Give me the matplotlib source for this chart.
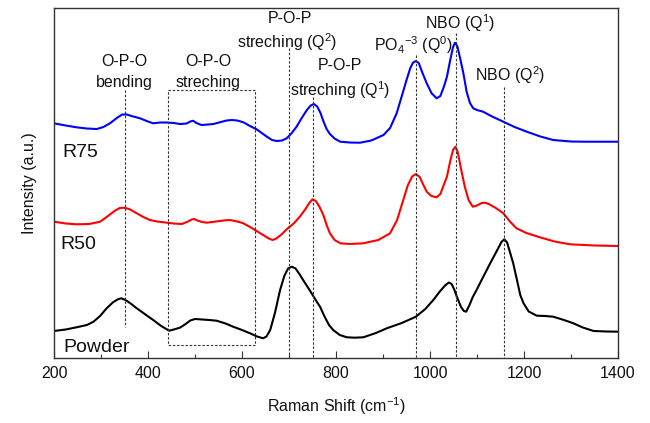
import matplotlib
matplotlib.use("Agg")
import matplotlib.pyplot as plt

plt.rcParams['font.family'] = ['Liberation Sans', 'DejaVu Sans']
plt.rcParams['mathtext.fontset'] = 'custom'
plt.rcParams['mathtext.rm'] = 'Liberation Sans'
plt.rcParams['mathtext.it'] = 'Liberation Sans:italic'

# Raman shift (cm^-1) and intensity (a.u., stacked)
r75_x = [200, 225, 248, 270, 291, 305, 319, 335, 345, 355, 365, 383, 400, 411, 425, 440, 455, 468,
         482, 490, 496, 503, 514, 527, 539, 555, 567, 578, 590, 603, 617, 631, 642, 653, 664, 674,
         685, 695, 705, 716, 727, 738, 746, 753, 760, 767, 773, 780, 787, 797, 809, 830, 851, 875,
         901, 915, 929, 940, 950, 958, 964, 970, 976, 984, 993, 1003, 1014, 1022, 1030, 1036, 1043,
         1049, 1053, 1058, 1064, 1071, 1078, 1085, 1092, 1100, 1113, 1130, 1156, 1180, 1206, 1235,
         1262, 1300, 1333, 1400]
r75_y = [234.7, 232.5, 230.7, 229.5, 229, 231, 234.7, 240.5, 243.5, 243.5, 242, 239.7, 236.5, 234.7,
         235.5, 235.5, 235, 234, 234.5, 236.5, 237.3, 235, 233, 233.5, 234, 236, 237.5, 238, 237.5,
         235.7, 232, 228.7, 225, 221.3, 218, 217, 217.5, 219.7, 224.5, 231.3, 240, 248, 252.5, 254,
         251.5, 245, 237, 229, 224, 219.5, 216.3, 215.5, 215.3, 217.5, 223, 230, 244.7, 262, 278,
         290, 295.5, 297, 295, 285, 274.7, 265, 259.7, 262, 272, 281.3, 298, 311, 315.3, 312, 300,
         284.7, 266, 255, 249.7, 248, 246.3, 242, 236.3, 231, 226.3, 221.5, 218, 216.5, 216.3, 216.3]

r50_x = [200, 225, 248, 275, 298, 315, 330, 340, 349, 360, 375, 390, 404, 420, 440, 455, 472, 485,
         493, 498, 505, 515, 525, 545, 560, 574, 590, 603, 617, 631, 645, 657, 665, 673, 684, 695,
         710, 723, 735, 743, 750, 757, 765, 773, 780, 787, 797, 809, 830, 858, 890, 915, 930, 943,
         953, 962, 970, 978, 986, 993, 1003, 1014, 1022, 1030, 1036, 1043, 1049, 1054, 1059, 1066,
         1074, 1082, 1091, 1100, 1110, 1117, 1125, 1140, 1156, 1170, 1184, 1205, 1234, 1265, 1298,
         1350, 1400]
r50_y = [136.3, 134.5, 133.7, 134, 136.3, 142, 147.5, 150, 150.3, 149, 145, 141, 138, 136.5, 135.3,
         134.5, 134, 136.5, 138.5, 139, 137.5, 136, 135.3, 136.5, 137.5, 138, 136.5, 134.7, 131, 127,
         123, 119.5, 118, 119.5, 123.5, 128.7, 134.5, 141.3, 149, 155, 158.7, 157, 151, 143, 133,
         124.7, 118, 114.7, 114, 114.7, 118, 124.7, 138, 158, 173, 181.5, 184, 181, 173, 166.3, 162,
         160.7, 164, 174, 181.3, 197, 208, 211.3, 206, 189, 171.3, 158, 151.3, 152.5, 155, 155.3,
         154, 150, 144.7, 136.5, 129.7, 125, 120.7, 116.5, 113.7, 112.5, 112]

powder_x = [200, 225, 248, 270, 284, 298, 312, 325, 335, 343, 352, 363, 376, 393, 411, 428, 445, 455,
            468, 480, 490, 500, 515, 530, 546, 565, 581, 600, 617, 632, 645, 652, 660, 670, 681, 690,
            698, 706, 714, 722, 730, 745, 759, 766, 775, 785, 794, 808, 823, 840, 858, 885, 908, 940,
            970, 990, 1007, 1020, 1032, 1040, 1046, 1052, 1057, 1066, 1072, 1077, 1084, 1091, 1099,
            1112, 1128, 1142, 1152, 1158, 1164, 1170, 1177, 1185, 1192, 1199, 1210, 1227, 1245, 1262,
            1285, 1305, 1325, 1348, 1375, 1400]
powder_y = [27, 28.5, 30.7, 33, 36.3, 42, 49.7, 55.5, 58.5, 59.7, 58, 54.5, 49.7, 44, 38, 32, 27.3,
            28.5, 30.3, 34, 37.5, 39, 38.5, 38, 37.3, 34.5, 31.3, 28, 24.7, 21.5, 19.7, 21.5, 28, 45,
            68, 82, 89.5, 91.3, 89.5, 84, 78, 67, 56.3, 51.3, 42, 33, 28, 23, 20.7, 20.3, 20.7, 25,
            29.7, 35, 41.3, 49, 58, 66, 72.5, 75.5, 74, 68, 61.3, 51, 47, 46.3, 53, 61, 68, 80, 94.7,
            107, 116, 118.7, 115.5, 106, 94.7, 78, 63, 54.7, 46.5, 42.3, 42, 41.3, 38, 34.7, 30.5,
            27, 26.5, 26.3]

fig = plt.figure(figsize=(6.5, 4.23), dpi=100)
ax = fig.add_axes([0.0831, 0.1537, 0.8677, 0.8273])

ax.plot(r75_x, r75_y, color='#0000ff', lw=1.5, solid_joinstyle='round')
ax.plot(r50_x, r50_y, color='#ff0000', lw=1.5, solid_joinstyle='round')
ax.plot(powder_x, powder_y, color='black', lw=1.5, solid_joinstyle='round')

dkw = dict(color='#333333', lw=0.8, ls=(0, (2.2, 1.6)))
ax.plot([350, 350], [268, 31], **dkw)
ax.plot([700, 700], [310, 0], **dkw)
ax.plot([752, 752], [261, 0], **dkw)
ax.plot([970, 970], [303, 0], **dkw)
ax.plot([1055, 1055], [325, 0], **dkw)
ax.plot([1157, 1157], [271, 0], **dkw)
ax.plot([442, 628, 628, 442, 442], [268, 268, 13.3, 13.3, 268], **dkw)

fs = 11.5
tk = dict(ha='center', va='center', fontsize=fs, color='#111111')
ax.text(350, 297, 'O-P-O', **tk)
ax.text(350, 276, 'bending', **tk)
ax.text(528, 297, 'O-P-O', **tk)
ax.text(528, 276, 'streching', **tk)
ax.text(702, 340, 'P-O-P', **tk)
ax.text(697, 316, 'streching (Q$^2$)', **tk)
ax.text(808, 293, 'P-O-P', **tk)
ax.text(808, 268, 'streching (Q$^1$)', **tk)
ax.text(964, 313, 'PO$_4$$^{-3}$ (Q$^0$)', **tk)
ax.text(1064, 335, 'NBO (Q$^1$)', **tk)
ax.text(1170, 283, 'NBO (Q$^2$)', **tk)

sk = dict(ha='left', va='center', fontsize=14, color='#111111')
ax.text(217, 206, 'R75', **sk)
ax.text(213, 114, 'R50', **sk)
ax.text(220, 10, 'Powder', **sk)

ax.set_xlim(200, 1400)
ax.set_ylim(0, 350)
ax.set_xticks([200, 400, 600, 800, 1000, 1200, 1400])
ax.set_xticks([300, 500, 700, 900, 1100, 1300], minor=True)
ax.set_yticks([])
ax.tick_params(axis='x', which='major', direction='in', length=5, width=0.8,
               labelsize=fs, pad=6, colors='#333333', labelcolor='#111111')
ax.tick_params(axis='x', which='minor', direction='in', length=3, width=0.8, colors='#333333')
for s in ax.spines.values():
    s.set_color('#333333')
    s.set_linewidth(1.0)

ax.set_xlabel('Raman Shift (cm$^{-1}$)', fontsize=fs, labelpad=10, color='#111111')
ax.set_ylabel('Intensity (a.u.)', fontsize=fs, labelpad=12, color='#111111')

fig.savefig('out.png', dpi=100)
